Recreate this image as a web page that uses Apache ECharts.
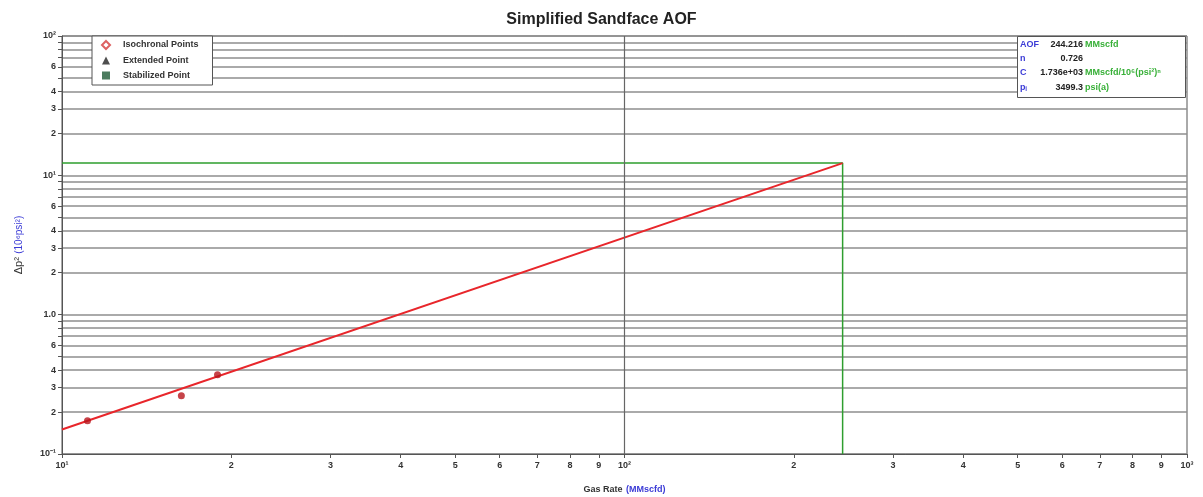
<!DOCTYPE html>
<html>
<head>
<meta charset="utf-8">
<script src="https://cdn.jsdelivr.net/npm/echarts@6/dist/echarts.min.js"></script>
<style>
  html, body { margin: 0; padding: 0; background: #fff; }
  #aof { width: 1203px; height: 497px; }
</style>
</head>
<body>
<div id="aof"></div>
<script>
// axis ticks (log decades)
var rateTicks = [10, 20, 30, 40, 50, 60, 70, 80, 90, 100, 200, 300, 400, 500, 600, 700, 800, 900, 1000];
var dpTicks = [0.1, 0.2, 0.3, 0.4, 0.5, 0.6, 0.7, 0.8, 0.9, 1, 2, 3, 4, 5, 6, 7, 8, 9,
  10, 20, 30, 40, 50, 60, 70, 80, 90, 100];
var dpLabels = [0.1, 0.2, 0.3, 0.4, 0.6, 1, 2, 3, 4, 6, 10, 20, 30, 40, 60, 100];

// test points (gas rate MMscfd, dp2 10^6 psi2)
var testRate = [11.1, 16.3, 18.9];
var testDp2 = [0.173, 0.262, 0.370];

// deliverability line endpoints and AOF guide
var aofLine = [[10, 0.150], [244.216, 12.245]];
var aofGuide = [[10, 12.245], [244.216, 12.245], [244.216, 0.1]];

// result table
var infoNames = ['AOF', 'n', 'C', 'p\u1D62'];
var infoValues = ['244.216', '0.726', '1.736e+03', '3499.3'];
var infoUnits = ['MMscfd', '', 'MMscfd/10\u2076(psi\u00B2)\u207F', 'psi(a)'];

function fmtRate(v) {
  if (v === 10) return '10\u00B9';
  if (v === 100) return '10\u00B2';
  if (v === 1000) return '10\u00B3';
  return String(v).replace(/0/g, '');
}
function fmtDp(v) {
  if (v === 0.1) return '10\u207B\u00B9';
  if (v === 1) return '1.0';
  if (v === 10) return '10\u00B9';
  if (v === 100) return '10\u00B2';
  return Number(v).toExponential()[0];
}

var infoGraphic = [{
  type: 'rect', left: 1017, top: 36, z: 100,
  shape: { width: 168, height: 61 },
  style: { fill: '#fff', stroke: '#555', lineWidth: 1 }
}];
for (var i = 0; i < infoNames.length; i++) {
  var ty = 40 + i * 14.2;
  infoGraphic.push({
    type: 'text', left: 1020, top: ty, z: 101,
    style: { text: infoNames[i], fill: '#3b3bd6', font: 'bold 9px "Liberation Sans", Arial' }
  });
  infoGraphic.push({
    type: 'text', right: 1203 - 1083, top: ty, z: 101,
    style: { text: infoValues[i], fill: '#222', font: 'bold 9px "Liberation Sans", Arial', align: 'right' }
  });
  if (infoUnits[i]) {
    infoGraphic.push({
      type: 'text', left: 1085, top: ty, z: 101,
      style: { text: infoUnits[i], fill: '#38b038', font: 'bold 9px "Liberation Sans", Arial' }
    });
  }
}

var chart = echarts.init(document.getElementById('aof'));
chart.setOption({
  backgroundColor: '#fff',
  animation: false,
  textStyle: { fontFamily: '"Liberation Sans", Arial, sans-serif' },
  title: {
    text: 'Simplified Sandface AOF',
    left: 'center',
    top: 7,
    textStyle: { fontSize: 16, fontWeight: 'bold', color: '#222' }
  },
  grid: {
    left: 62, right: 16, top: 36, bottom: 43,
    outerBoundsMode: 'none',
    containLabel: false,
    show: true, borderColor: '#555', borderWidth: 1, backgroundColor: '#fff'
  },
  legend: {
    orient: 'vertical',
    left: 92, top: 36,
    padding: [4, 14, 5, 9],
    itemWidth: 8, itemHeight: 8, itemGap: 6,
    backgroundColor: '#fff',
    borderColor: '#555', borderWidth: 1,
    textStyle: { fontSize: 9, fontWeight: 'bold', color: '#333', padding: [0, 0, 0, 8] },
    data: ['Isochronal Points', 'Extended Point', 'Stabilized Point']
  },
  xAxis: {
    type: 'log', logBase: 10, min: 10, max: 1000,
    name: '{a|Gas Rate} {b|(MMscfd)}',
    nameLocation: 'middle', nameGap: 30,
    nameTextStyle: {
      rich: {
        a: { fontSize: 9, fontWeight: 'bold', color: '#333' },
        b: { fontSize: 9, fontWeight: 'bold', color: '#3b3bd6' }
      }
    },
    axisLine: { show: true, lineStyle: { color: '#555', width: 1 } },
    axisTick: { show: true, length: 4, customValues: rateTicks, lineStyle: { color: '#555' } },
    axisLabel: {
      customValues: rateTicks, margin: 7,
      fontSize: 9, fontWeight: 'bold', color: '#333',
      formatter: fmtRate
    },
    splitLine: { show: false },
    minorTick: { show: false }
  },
  yAxis: {
    type: 'log', logBase: 10, min: 0.1, max: 100,
    name: '{a|\u0394p\u00B2} {b|(10\u2076psi\u00B2)}',
    nameLocation: 'middle', nameGap: 37, nameRotate: 90,
    nameTextStyle: {
      rich: {
        a: { fontSize: 11, color: '#333' },
        b: { fontSize: 10, color: '#3b3bd6' }
      }
    },
    axisLine: { show: true, lineStyle: { color: '#555', width: 1 } },
    axisTick: { show: true, length: 4, customValues: dpTicks, lineStyle: { color: '#555' } },
    axisLabel: {
      customValues: dpLabels, margin: 6,
      fontSize: 9, fontWeight: 'bold', color: '#333',
      formatter: fmtDp
    },
    splitLine: { show: true, lineStyle: { color: '#8e8e8e', width: 1.5 } }
  },
  series: [
    {
      name: 'Isochronal Points', type: 'scatter', data: [],
      symbol: 'emptyDiamond',
      itemStyle: { color: '#d43a3a', borderColor: '#d43a3a', borderWidth: 1 }
    },
    {
      name: 'Extended Point', type: 'scatter', data: [],
      symbol: 'triangle',
      itemStyle: { color: '#222' }
    },
    {
      name: 'Stabilized Point', type: 'scatter', data: [],
      symbol: 'rect',
      itemStyle: { color: '#1e5a36' }
    },
    {
      name: 'guide', type: 'line', symbol: 'none', silent: true,
      data: aofGuide,
      lineStyle: { color: '#2e9e2e', width: 1.5 },
      markLine: {
        silent: true, symbol: 'none',
        label: { show: false },
        lineStyle: { color: '#666', width: 1.2, type: 'solid' },
        data: [{ xAxis: 100 }]
      },
      z: 3
    },
    {
      name: 'deliverability', type: 'line', symbol: 'none', silent: true,
      data: aofLine,
      lineStyle: { color: '#e8262b', width: 2 },
      z: 4
    },
    {
      name: 'tests', type: 'scatter', symbol: 'circle', symbolSize: 7,
      data: testRate.map(function (q, k) { return [q, testDp2[k]]; }),
      itemStyle: { color: '#b8141c' },
      z: 5
    }
  ],
  graphic: infoGraphic
});
</script>
</body>
</html>
